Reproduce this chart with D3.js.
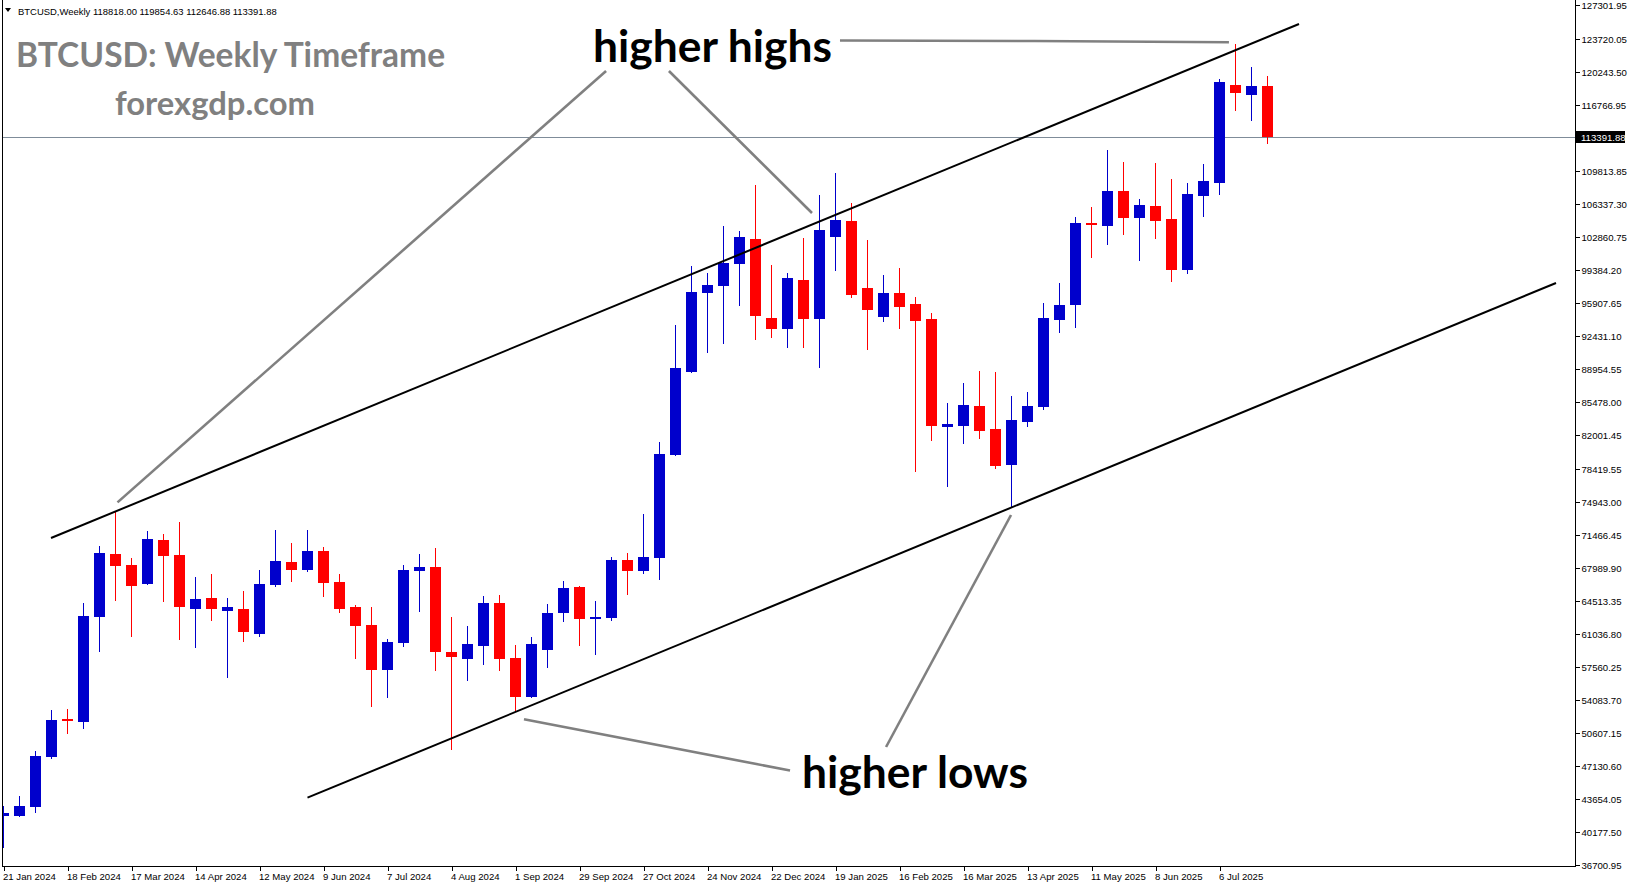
<!DOCTYPE html>
<html><head><meta charset="utf-8">
<script src="https://cdn.jsdelivr.net/npm/d3@7/dist/d3.min.js"></script>
<style>html,body{margin:0;padding:0;background:#fff;overflow:hidden}</style>
</head><body>
<svg id="chart" width="1631" height="888"></svg>
<script>
// ---------- DATA ----------
const tickLabels = ["21 Jan 2024","18 Feb 2024","17 Mar 2024","14 Apr 2024","12 May 2024","9 Jun 2024",
  "7 Jul 2024","4 Aug 2024","1 Sep 2024","29 Sep 2024","27 Oct 2024","24 Nov 2024","22 Dec 2024",
  "19 Jan 2025","16 Feb 2025","16 Mar 2025","13 Apr 2025","11 May 2025","8 Jun 2025","6 Jul 2025"];
const barsPerTick = 4;

const open  = [41863,41863,42843,48110,52040,51797,62860,69465,68306,66304,70940,69360,63671,64830,63494,63671,61037,66230,68622,67810,
  69781,66514,63882,61985,57276,60120,67700,68095,59107,58431,59804,64303,58508,54434,59383,63291,65989,62653,62750,68833,
  67700,69070,79894,88637,96960,97698,100015,102650,94347,93169,98330,94222,102860,104546,97487,94454,96919,95802,94222,82876,
  82950,85057,82634,78841,83371,84951,94117,95697,104300,104053,107707,104893,106127,104757,99416,107212,108581,118875,117851,118818];
const high  = [42917,43970,48743,53030,53135,64271,70308,73910,69000,71888,71572,72837,67042,67358,64830,65568,67779,71993,70624,71993,
  70203,67358,64100,63882,60510,68306,69465,70045,62828,61879,65040,65146,59878,60721,64197,66620,66093,64514,69149,69570,
  73680,81265,93590,99805,99068,104020,103493,108339,99911,99032,102755,107338,109575,106443,102544,98857,99595,96539,94854,85373,
  87480,88745,88640,86110,86531,95907,98014,104967,106023,112026,110762,106864,110657,108973,108552,110551,119507,123193,120778,119854.63];
const low   = [38492,41726,42211,47836,50502,50998,59172,64535,60742,66199,64434,60394,59588,62407,56401,60193,60742,66020,66546,67600,
  64956,63270,58426,53367,54315,59700,63376,57170,48845,56105,57792,57170,52841,54315,57486,62328,59804,58845,62434,65166,
  67380,66726,79789,88500,90656,91589,95580,92010,92220,91167,91167,89060,99310,96434,90956,93906,93169,78103,81370,76523,
  81054,81581,78420,74343,82845,84635,92747,93310,100648,102048,103102,100372,102680,98152,98995,104967,107307,116145,115091,112646.88];
const close = [42179,42917,48184,51977,51830,62934,69602,68232,66125,71045,69254,63913,64724,63671,63882,61280,66304,68727,67810,69781,
  66441,63702,61912,57276,60194,67779,68060,59172,58642,59989,64303,58431,54434,59984,63249,65887,62653,62828,68833,67700,
  69149,80000,89060,97065,97803,100121,102860,94558,93169,98540,94222,103598,104652,96761,95169,96919,95440,94012,82950,83161,
  85162,82424,78736,83582,85057,94327,95697,104369,104150,107707,104893,106232,104579,99416,107391,108760,119191,118064,118770,113391.88];

const priceTicks = [127301.95,123720.05,120243.50,116766.95,109813.85,106337.30,102860.75,99384.20,95907.65,92431.10,
  88954.55,85478.00,82001.45,78419.55,74943.00,71466.45,67989.90,64513.35,61036.80,57560.25,54083.70,50607.15,
  47130.60,43654.05,40177.50,36700.95];
const lastPrice = 113391.88;
const headerText = "BTCUSD,Weekly  118818.00 119854.63 112646.88 113391.88";

// trend channel anchors: [bar index, price]
const upperChannel = [[2.97, 71150], [80.97, 125300]];
const lowerChannel = [[19.0, 43791], [97.03, 98015]];
// annotation pointer lines: [bar index, price]
const pointers = [
  [[37.66, 120349], [7.125, 74901]],
  [[41.59, 120349], [50.53, 105389]],
  [[52.28, 123562], [64.41, 123509], [76.59, 123372]],
  [[32.53, 52051], [49.16, 46657]],
  [[55.16, 49132], [62.97, 73574]]
];

// ---------- LAYOUT ----------
const svg = d3.select("#chart");
const plot = {left: 2, right: 1575, top: 0, bottom: 866};
const x = d3.scaleLinear().domain([0, 1]).range([3.5, 19.5]);
const y = d3.scaleLinear().domain([36700.95, 127301.95]).range([865, 5]);
const UP = "#0000CC", DOWN = "#FF0000";
const axisFont = "'Liberation Sans', Arial, sans-serif";
const bigFont = "Lato, 'Open Sans', sans-serif";

svg.append("rect").attr("width", 1631).attr("height", 888).attr("fill", "#fff");

svg.append("clipPath").attr("id", "clip").append("rect")
  .attr("x", plot.left + 1).attr("y", plot.top).attr("width", plot.right - plot.left - 1).attr("height", plot.bottom - plot.top);

const g = svg.append("g").attr("clip-path", "url(#clip)");

// current price line
g.append("line").attr("x1", plot.left).attr("x2", plot.right)
  .attr("y1", Math.round(y(lastPrice)) + 0.5).attr("y2", Math.round(y(lastPrice)) + 0.5)
  .attr("stroke", "#7f8c99").attr("stroke-width", 1);

// candles
const idx = d3.range(open.length);
const cg = g.append("g").attr("shape-rendering", "crispEdges");
cg.selectAll("line.wick").data(idx).join("line").attr("class", "wick")
  .attr("x1", i => x(i)).attr("x2", i => x(i))
  .attr("y1", i => y(high[i])).attr("y2", i => y(low[i]))
  .attr("stroke", i => close[i] >= open[i] ? UP : DOWN).attr("stroke-width", 1);
cg.selectAll("rect.body").data(idx).join("rect").attr("class", "body")
  .attr("x", i => x(i) - 5.5).attr("width", 11)
  .attr("y", i => y(Math.max(open[i], close[i])))
  .attr("height", i => Math.max(1.5, Math.abs(y(open[i]) - y(close[i]))))
  .attr("fill", i => close[i] >= open[i] ? UP : DOWN);

// channel lines
const lineGen = d3.line().x(d => x(d[0])).y(d => y(d[1]));
g.selectAll("path.channel").data([upperChannel, lowerChannel]).join("path").attr("class", "channel")
  .attr("d", lineGen).attr("fill", "none").attr("stroke", "#000").attr("stroke-width", 2);

// pointer lines
g.selectAll("path.pointer").data(pointers).join("path").attr("class", "pointer")
  .attr("d", lineGen).attr("fill", "none").attr("stroke", "#808080").attr("stroke-width", 2.6);

// texts
function fitText(sel, targetW) {
  const w = sel.node().getComputedTextLength();
  const fs = parseFloat(sel.attr("font-size"));
  sel.attr("font-size", (fs * targetW / w).toFixed(2));
}
const bigTexts = [
  {t: "BTCUSD: Weekly Timeframe", x: 16, y: 67, w: 429, c: "#808080", fs: 30},
  {t: "forexgdp.com", x: 115, y: 114.5, w: 200, c: "#808080", fs: 30},
  {t: "higher highs", x: 593, y: 62, w: 239, c: "#000", fs: 45},
  {t: "higher lows", x: 802, y: 788, w: 226, c: "#000", fs: 45}
];
bigTexts.forEach(d => {
  const s = svg.append("text").attr("x", d.x).attr("y", d.y).attr("fill", d.c)
    .attr("font-family", bigFont).attr("font-weight", "bold").attr("font-size", d.fs).text(d.t);
  fitText(s, d.w);
});

// header
svg.append("path").attr("d", "M5,8 L11,8 L8,12 Z").attr("fill", "#000");
const ht = svg.append("text").attr("x", 18).attr("y", 15).attr("font-family", axisFont)
  .attr("font-size", 10).attr("fill", "#000").text(headerText);
fitText(ht, 259);

// frame
const fr = svg.append("g").attr("shape-rendering", "crispEdges").attr("stroke", "#000").attr("stroke-width", 1);
fr.append("line").attr("x1", plot.left + 0.5).attr("x2", plot.left + 0.5).attr("y1", plot.top).attr("y2", plot.bottom + 0.5);
fr.append("line").attr("x1", plot.left).attr("x2", plot.right + 1).attr("y1", plot.bottom + 0.5).attr("y2", plot.bottom + 0.5);
fr.append("line").attr("x1", plot.right + 0.5).attr("x2", plot.right + 0.5).attr("y1", plot.top).attr("y2", plot.bottom + 0.5);

// y axis (right)
const yAxis = d3.axisRight(y).tickValues(priceTicks).tickSize(4).tickPadding(2)
  .tickFormat(d => d.toFixed(2));
const ya = svg.append("g").attr("transform", `translate(${plot.right + 0.5},0)`).call(yAxis);
ya.select(".domain").remove();
ya.selectAll("line").attr("stroke", "#000").attr("shape-rendering", "crispEdges");
ya.selectAll("text").attr("font-family", axisFont).attr("font-size", 9.6).attr("fill", "#000");

// current price label
const py = Math.round(y(lastPrice));
svg.append("rect").attr("x", plot.right).attr("y", py - 6).attr("width", 50).attr("height", 12).attr("fill", "#000");
svg.append("text").attr("x", plot.right + 6).attr("y", py + 3.5).attr("font-family", axisFont)
  .attr("font-size", 9.6).attr("fill", "#fff").text(lastPrice.toFixed(2));

// x axis (bottom)
const tickIdx = tickLabels.map((_, k) => k * barsPerTick);
const xAxis = d3.axisBottom(x).tickValues(tickIdx).tickSize(4).tickPadding(3)
  .tickFormat((d, k) => tickLabels[k]);
const xa = svg.append("g").attr("transform", `translate(0,${plot.bottom + 0.5})`).call(xAxis);
xa.select(".domain").remove();
xa.selectAll("line").attr("stroke", "#000").attr("shape-rendering", "crispEdges");
xa.selectAll("text").attr("font-family", axisFont).attr("font-size", 9.6).attr("fill", "#000")
  .attr("text-anchor", "start").attr("dx", "-1");
</script>
</body></html>
